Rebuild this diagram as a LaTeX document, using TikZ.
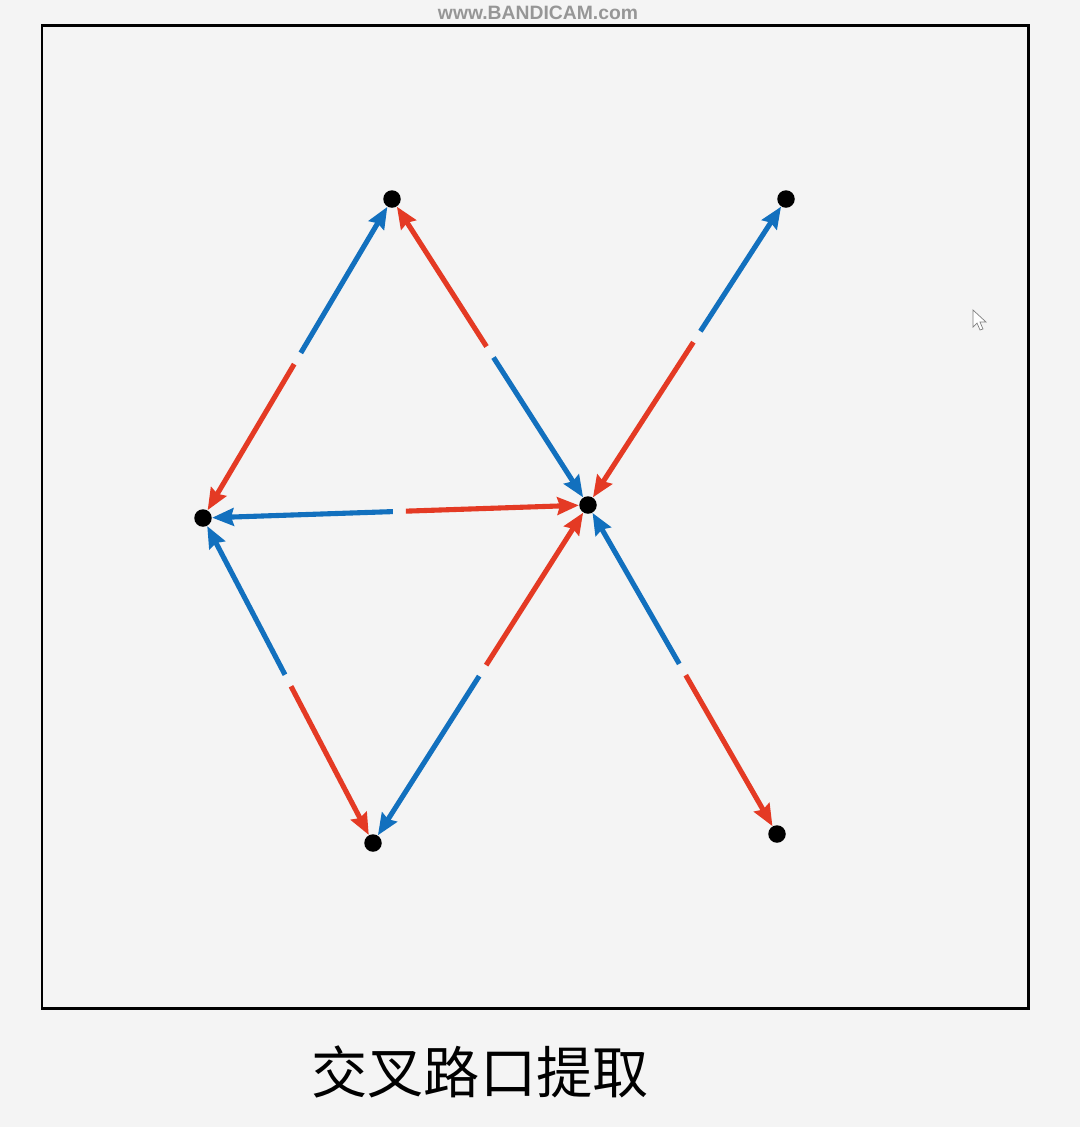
\documentclass[tikz,border=0pt]{standalone}
\usepackage{fontspec}
\usepackage{xcolor}
\usetikzlibrary{arrows.meta,calc}
\newfontfamily\cjk{Noto Sans CJK SC}
\newfontfamily\markfont{Liberation Sans}
\definecolor{halfblue}{RGB}{18,112,190}
\definecolor{halfred}{RGB}{228,58,36}
\definecolor{panelgray}{RGB}{244,244,244}
\definecolor{markgray}{RGB}{150,150,150}

\begin{document}
\begin{tikzpicture}[x=0.02cm,y=-0.02cm,
  junction/.style={circle,fill=black,inner sep=0pt,minimum size=0.35cm},
  half/.style={line width=2.9pt,-{Stealth[length=0.43cm,width=0.35cm,inset=0.05cm]},shorten <=0.13cm}]
\fill[panelgray] (0,0) rectangle (1080,1127);
\useasboundingbox (0,0) rectangle (1080,1127);
\node[font=\markfont\bfseries\fontsize{11pt}{11pt}\selectfont,text=markgray] (mark) at (538,13) {www.BANDICAM.com};
\draw[line width=1.7pt] (42,25) rectangle (1028,1008);
\node[junction] (A) at (392,199) {};
\node[junction] (B) at (786,199) {};
\node[junction] (C) at (203,518) {};
\node[junction] (D) at (588,505) {};
\node[junction] (E) at (373,843) {};
\node[junction] (F) at (777,834) {};
\draw[half,halfblue] ($(A)!0.5!(C)$) -- (A);
\draw[half,halfred] ($(A)!0.5!(C)$) -- (C);
\draw[half,halfred] ($(A)!0.5!(D)$) -- (A);
\draw[half,halfblue] ($(A)!0.5!(D)$) -- (D);
\draw[half,halfblue] ($(B)!0.45!(D)$) -- (B);
\draw[half,halfred] ($(B)!0.45!(D)$) -- (D);
\draw[half,halfblue] ($(C)!0.51!(D)$) -- (C);
\draw[half,halfred] ($(C)!0.51!(D)$) -- (D);
\draw[half,halfblue] ($(C)!0.5!(E)$) -- (C);
\draw[half,halfred] ($(C)!0.5!(E)$) -- (E);
\draw[half,halfblue] ($(E)!0.51!(D)$) -- (E);
\draw[half,halfred] ($(E)!0.51!(D)$) -- (D);
\draw[half,halfblue] ($(F)!0.5!(D)$) -- (D);
\draw[half,halfred] ($(F)!0.5!(D)$) -- (F);
\draw[fill=white,draw=gray,line width=0.4pt] (973,310) -- (973,327) -- (977,323) -- (980,330) -- (983,329) -- (980,322) -- (986,322) -- cycle;
\node[font=\cjk\fontsize{32pt}{32pt}\selectfont] (caption) at (480,1072) {交叉路口提取};
\end{tikzpicture}
\end{document}
